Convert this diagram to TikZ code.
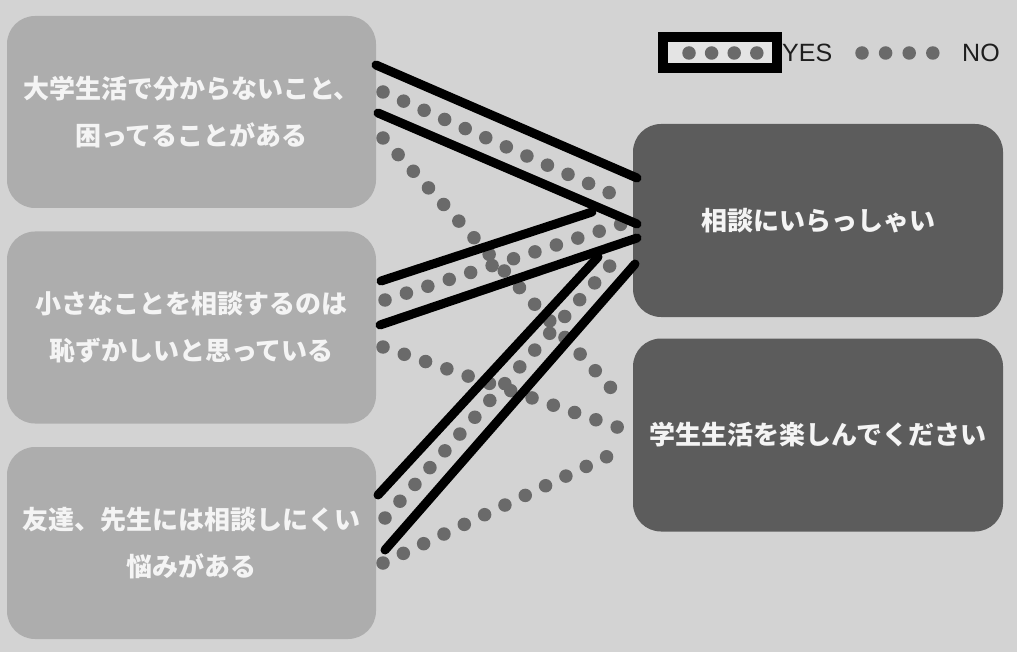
\documentclass[tikz,border=0pt]{standalone}
\usepackage{fontspec}
\setmainfont{Liberation Sans}
\newfontfamily\jp{Noto Sans CJK JP}
\definecolor{bgc}{HTML}{D3D3D3}
\definecolor{leftc}{HTML}{ADADAD}
\definecolor{rightc}{HTML}{5C5C5C}
\definecolor{dotc}{HTML}{6A6A6A}
\definecolor{txtc}{HTML}{F4F4F4}
\definecolor{legfill}{HTML}{E4E4E4}
\definecolor{legtxt}{HTML}{1E1E1E}
\tikzset{
  lbox/.style={rounded corners=28pt, fill=leftc, minimum width=369pt, minimum height=192pt,
    inner sep=0pt, text=txtc, align=center, font=\jp\bfseries\fontsize{26}{47}\selectfont},
  rbox/.style={rounded corners=28pt, fill=rightc, minimum width=370pt, minimum height=193pt,
    inner sep=0pt, text=txtc, align=center, font=\jp\bfseries\fontsize{26}{47}\selectfont},
  yesline/.style={line width=9pt, line cap=round, black},
  dotline/.style={line width=13.5pt, line cap=round, dash pattern=on 0pt off 22.5pt, dotc},
  legtext/.style={anchor=west, inner sep=0pt, text=legtxt, font=\fontsize{25}{28}\selectfont},
}
\begin{document}
\begin{tikzpicture}[x=1pt,y=-1pt]
\fill[bgc] (0,0) rectangle (1017,652);
\useasboundingbox (0,0) rectangle (1017,652);

% boxes
\node[lbox] (q1) at (191.5,112) {大学生活で分からないこと、\\困ってることがある};
\node[lbox] (q2) at (191.5,327.5) {小さなことを相談するのは\\恥ずかしいと思っている};
\node[lbox] (q3) at (191.5,543) {友達、先生には相談しにくい\\悩みがある};
\node[rbox] (a1) at (818,220.5) {相談にいらっしゃい};
\node[rbox] (a2) at (818,435) {学生生活を楽しんでください};

% endpoints
\coordinate (n1s) at (383,138); \coordinate (n1e) at (622,400);
\coordinate (n2s) at (383,347); \coordinate (n2e) at (620,428);
\coordinate (n3s) at (383,563); \coordinate (n3e) at (625,448);

\coordinate (y1ts) at (376,65);  \coordinate (y1te) at (637,178);
\coordinate (y1ds) at (383,92);  \coordinate (y1de) at (628,201);
\coordinate (y1bs) at (378,113); \coordinate (y1be) at (637,224);

\coordinate (y2ts) at (381,281); \coordinate (y2te) at (592,212);
\coordinate (y2ds) at (385,300); \coordinate (y2de) at (628,222);
\coordinate (y2bs) at (380,325); \coordinate (y2be) at (637,238);

\coordinate (y3ts) at (378,495); \coordinate (y3te) at (598,257);
\coordinate (y3ds) at (385,518); \coordinate (y3de) at (624,250);
\coordinate (y3bs) at (385,550); \coordinate (y3be) at (635,264);

% NO connectors
\draw[dotline] (n1s) -- (n1e);
\draw[dotline] (n2s) -- (n2e);
\draw[dotline] (n3s) -- (n3e);

% YES connectors
\draw[dotline] (y1ds) -- (y1de);
\draw[dotline] (y2ds) -- (y2de);
\draw[dotline] (y3ds) -- (y3de);
\draw[yesline] (y1ts) -- (y1te);
\draw[yesline] (y1bs) -- (y1be);
\draw[yesline] (y2ts) -- (y2te);
\draw[yesline] (y2bs) -- (y2be);
\draw[yesline] (y3ts) -- (y3te);
\draw[yesline] (y3bs) -- (y3be);

% legend
\node[draw=black, line width=10pt, fill=legfill, minimum width=114pt, minimum height=31pt,
  inner sep=0pt] (legbox) at (720,52.5) {};
\coordinate (lyd1) at (689,53); \coordinate (lyd2) at (757,53);
\draw[dotline, dash pattern=on 0pt off 22.6pt] (lyd1) -- (lyd2);
\node[legtext] (yes) at (782,53) {YES};
\coordinate (lnd1) at (862,53); \coordinate (lnd2) at (933,53);
\draw[dotline, dash pattern=on 0pt off 23.6pt] (lnd1) -- (lnd2);
\node[legtext] (no) at (962,53) {NO};
\end{tikzpicture}
\end{document}
